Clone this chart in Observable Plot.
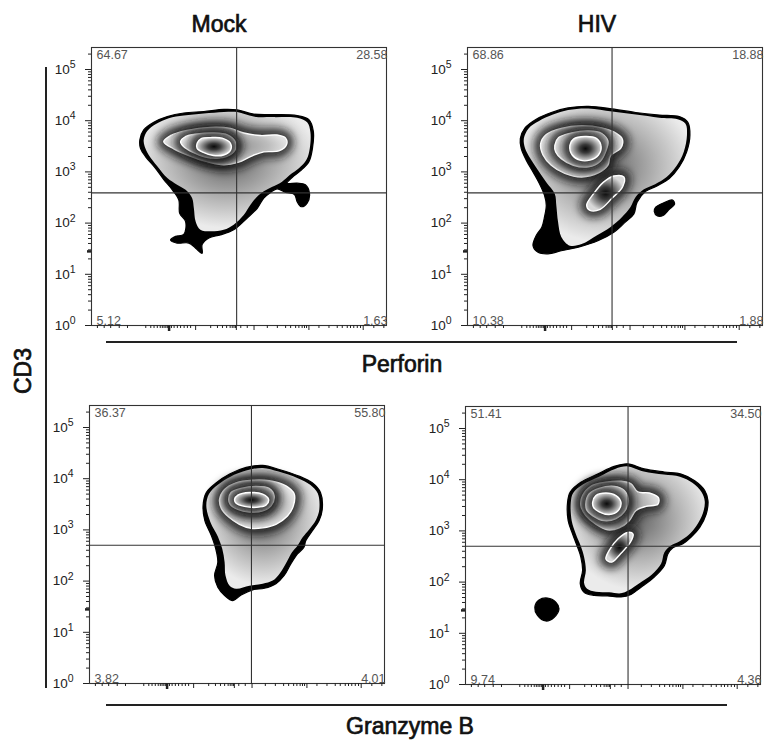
<!DOCTYPE html>
<html><head><meta charset="utf-8">
<script src="https://cdn.jsdelivr.net/npm/d3@7"></script>
<script src="https://cdn.jsdelivr.net/npm/@observablehq/plot@0.6"></script>
<style>
body{margin:0;background:#fff;}
#fig{position:relative;width:774px;height:753px;font-family:"Liberation Sans",Arial,sans-serif;overflow:hidden;}
.lbl{position:absolute;font-size:23px;color:#111;white-space:nowrap;-webkit-text-stroke:0.7px #111;transform:translate(-50%,-50%);}
.ln{position:absolute;background:#222;}
.panel{position:absolute;}
</style></head><body>
<svg width="0" height="0" style="position:absolute"><defs>
<radialGradient id="peak" cx="0.5" cy="0.5" r="0.5">
<stop offset="0" stop-color="#0a0a0a"/>
<stop offset="0.35" stop-color="#3a3a3a"/>
<stop offset="0.75" stop-color="#9a9a9a"/>
<stop offset="1" stop-color="#d8d8d8"/>
</radialGradient>
<radialGradient id="band" cx="0.5" cy="0.5" r="0.5">
<stop offset="0" stop-color="#808080"/>
<stop offset="0.7" stop-color="#bdbdbd"/>
<stop offset="1" stop-color="#e2e2e2"/>
</radialGradient>
<radialGradient id="soft" cx="0.5" cy="0.42" r="0.55">
<stop offset="0" stop-color="#666"/>
<stop offset="0.6" stop-color="#b8b8b8"/>
<stop offset="1" stop-color="#ebebeb"/>
</radialGradient>
<filter id="halo" filterUnits="userSpaceOnUse" x="-20" y="-20" width="420" height="360">
<feGaussianBlur stdDeviation="4"/>
</filter>
</defs></svg>
<div id="fig"></div>
<script>
// ---- text ----
const conditions = ["Mock", "HIV"];
const markers = ["Perforin", "Granzyme B"];
const yTitle = "CD3";

// ---- quadrant percentages [UL, UR, LL, LR] ----
const quadMockPerf = [64.67, 28.58, 5.12, 1.63];
const quadHivPerf = [68.86, 18.88, 10.38, 1.88];
const quadMockGzm = [36.37, 55.80, 3.82, 4.01];
const quadHivGzm = [51.41, 34.50, 9.74, 4.36];

// ---- gate positions (x in % of axis, y in CD3 units) ----
const gateX = [49.2, 49.0, 54.9, 55.1];
const gateY = [390, 390, 500, 500];

// ---- axis ticks ----
const yMajorTicks = [1, 10, 100, 1000, 10000, 100000];
const yMantissas = [2, 3, 4, 5, 6, 7, 8, 9];
const yDecades = [1, 10, 100, 1000, 10000];
const yExtraMinor = [200000];
const yThickTicks = [28];
const xMajorTicks = [35.3, 49.1, 55.1, 73.7, 92.1];
const xThickTicks = [26.3];
const xMinorTicks = [2.0,4.3,6.5,9.4,12.2,18.4,20.1,21.2,22.3,23.3,24.0,24.6,25.2,25.7,27.1,28.0,29.1,30.2,31.4,32.5,33.6,40.4,42.7,44.4,45.8,47.0,47.7,48.3,48.8,50.6,52.8,59.6,63.0,65.8,67.5,69.2,70.3,71.4,72.2,72.9,77.1,80.5,83.3,85.0,86.7,87.8,88.9,90.1,91.2,95.7,99.1];

// ---- contour outlines: [x (% of axis), log10(CD3)] ----
// Mock / Perforin
const tlOuter = [[16.4,3.63],[17.7,3.82],[21.1,3.97],[25.7,4.08],[31.3,4.15],[38.1,4.18],[44.9,4.22],[49.4,4.21],[55.0,4.13],[61.8,4.12],[69.7,4.10],[73.7,4.02],[75.2,3.79],[74.9,3.46],[73.7,3.20],[70.8,3.02],[68.0,2.89],[66.3,2.78],[69.7,2.78],[72.5,2.75],[73.9,2.58],[73.1,2.39],[71.1,2.32],[69.7,2.42],[68.8,2.56],[65.8,2.60],[62.9,2.67],[60.7,2.60],[58.4,2.49],[56.2,2.29],[52.8,2.10],[48.2,1.87],[43.7,1.77],[39.8,1.71],[37.5,1.58],[37.5,1.41],[35.3,1.51],[33.0,1.61],[29.0,1.61],[26.8,1.67],[28.5,1.74],[31.3,1.78],[31.9,2.03],[29.9,2.19],[29.6,2.45],[27.4,2.65],[24.5,2.85],[21.7,3.07],[18.3,3.30],[16.6,3.46]];
const tlBody = [[17.7,3.63],[18.9,3.80],[22.0,3.94],[26.2,4.05],[31.3,4.10],[38.1,4.14],[44.9,4.17],[49.4,4.17],[55.0,4.08],[61.8,4.07],[69.7,4.06],[73.1,3.97],[74.2,3.78],[74.0,3.46],[72.9,3.24],[70.3,3.07],[67.2,2.94],[64.6,2.81],[61.3,2.71],[58.4,2.62],[56.2,2.52],[53.9,2.36],[51.6,2.16],[48.2,1.97],[44.8,1.87],[40.3,1.84],[36.9,1.87],[35.3,2.03],[34.7,2.29],[34.1,2.49],[31.9,2.65],[29.0,2.75],[25.7,2.88],[22.3,3.11],[19.4,3.33],[18.0,3.50]];
const tlRing1 = [[24.5,3.59],[26.8,3.71],[32.4,3.81],[40.3,3.87],[47.1,3.85],[51.6,3.76],[57.3,3.71],[62.9,3.72],[65.8,3.66],[66.1,3.53],[63.5,3.41],[58.4,3.39],[53.9,3.30],[49.9,3.19],[44.8,3.14],[39.2,3.20],[33.0,3.32],[27.9,3.45]];
const tlRing2 = [[30.2,3.59],[31.9,3.69],[35.8,3.74],[41.5,3.76],[46.2,3.72],[48.5,3.61],[48.8,3.45],[46.9,3.33],[43.2,3.27],[38.6,3.29],[34.1,3.39],[31.1,3.50]];
const tlRing3 = [[35.8,3.56],[37.2,3.65],[40.3,3.67],[44.3,3.66],[47.1,3.56],[47.1,3.42],[44.8,3.33],[41.3,3.32],[37.9,3.38],[35.8,3.46]];
// HIV / Perforin
const trOuter = [[17.9,3.65],[19.5,3.86],[23.3,4.03],[28.4,4.16],[34.1,4.25],[41.0,4.28],[49.0,4.23],[57.0,4.16],[65.0,4.11],[71.8,4.08],[74.7,3.97],[75.4,3.72],[74.3,3.39],[71.8,3.10],[68.4,2.87],[64.4,2.73],[60.4,2.62],[57.5,2.41],[56.4,2.18],[53.5,2.02],[49.6,1.82],[44.4,1.66],[37.6,1.53],[31.8,1.46],[27.3,1.40],[23.9,1.43],[22.2,1.56],[23.3,1.76],[25.2,1.92],[26.1,2.12],[26.7,2.35],[26.1,2.54],[24.4,2.77],[22.2,3.00],[19.9,3.23],[18.2,3.46]];
const trBlob = [[63.8,2.31],[66.7,2.40],[69.5,2.45],[70.2,2.37],[68.4,2.27],[66.3,2.15],[64.4,2.14],[63.3,2.23]];
const trBody = [[19.1,3.65],[20.7,3.85],[24.1,3.99],[29.0,4.12],[34.1,4.21],[41.0,4.24],[49.0,4.18],[57.0,4.12],[65.0,4.06],[71.2,4.03],[73.9,3.94],[74.4,3.72],[73.3,3.39],[70.9,3.12],[67.5,2.90],[63.6,2.76],[59.8,2.66],[57.0,2.51],[55.2,2.31],[52.4,2.12],[48.4,1.92],[43.8,1.76],[38.7,1.59],[34.7,1.56],[31.8,1.73],[30.7,2.02],[30.1,2.35],[29.6,2.57],[26.7,2.80],[23.9,3.03],[21.3,3.26],[19.5,3.46]];
const trRing1 = [[24.8,3.55],[26.7,3.73],[31.8,3.85],[38.7,3.90],[45.5,3.86],[49.6,3.78],[52.5,3.64],[52.0,3.47],[48.4,3.31],[47.6,3.13],[44.4,2.98],[38.7,2.90],[33.0,2.97],[28.4,3.13],[25.6,3.33]];
const trRing2 = [[29.6,3.52],[30.9,3.67],[35.3,3.76],[41.0,3.80],[45.5,3.75],[47.6,3.60],[46.9,3.41],[45.0,3.21],[41.0,3.10],[35.9,3.13],[31.8,3.26],[29.9,3.39]];
const trRing3 = [[34.7,3.52],[35.9,3.64],[39.8,3.69],[43.8,3.65],[45.3,3.49],[44.4,3.33],[41.5,3.23],[38.1,3.23],[35.5,3.33]];
const trIsland = [[49.6,2.92],[53.0,2.90],[52.6,2.71],[48.9,2.48],[45.0,2.27],[41.5,2.25],[40.4,2.35],[42.7,2.57],[46.1,2.80]];
// Mock / Granzyme B
const blOuter = [[38.5,3.47],[39.6,3.73],[43.0,3.92],[47.5,4.09],[53.1,4.22],[58.7,4.26],[64.3,4.18],[71.0,4.05],[75.5,3.92],[78.3,3.73],[78.9,3.40],[77.8,3.18],[75.5,2.98],[73.3,2.79],[72.7,2.66],[70.5,2.53],[68.2,2.33],[66.0,2.11],[63.2,1.95],[59.3,1.86],[55.3,1.83],[51.4,1.73],[48.6,1.62],[45.8,1.72],[43.5,1.88],[42.4,2.11],[43.5,2.37],[42.8,2.63],[41.3,2.89],[39.1,3.18]];
const blBody = [[39.6,3.47],[40.5,3.70],[43.5,3.88],[47.8,4.04],[53.1,4.16],[58.7,4.21],[64.1,4.14],[70.6,4.01],[74.8,3.88],[77.4,3.71],[77.9,3.40],[76.8,3.20],[74.6,3.02],[72.2,2.85],[70.5,2.69],[68.6,2.56],[66.8,2.37],[64.6,2.16],[62.1,2.01],[58.7,1.95],[54.2,1.91],[49.7,1.85],[47.5,1.91],[46.1,2.11],[45.8,2.37],[45.0,2.63],[43.5,2.87],[41.0,3.15]];
const blRing1 = [[44.1,3.60],[45.8,3.79],[49.7,3.92],[55.3,3.97],[60.9,3.96],[66.6,3.86],[69.4,3.70],[69.1,3.47],[67.1,3.27],[63.2,3.11],[58.7,3.04],[54.8,3.03],[50.8,3.11],[47.2,3.25],[44.7,3.42]];
const blRing2 = [[47.2,3.60],[48.0,3.73],[51.4,3.81],[56.5,3.85],[60.9,3.81],[62.6,3.66],[61.5,3.47],[58.7,3.37],[54.2,3.35],[50.3,3.40],[47.7,3.50]];
const blRing3 = [[49.2,3.60],[50.3,3.68],[54.2,3.73],[58.7,3.70],[60.7,3.60],[59.8,3.48],[56.5,3.44],[52.5,3.46],[49.7,3.52]];
// HIV / Granzyme B
const brOuter = [[34.6,3.56],[35.5,3.76],[39.1,3.95],[44.8,4.11],[50.4,4.26],[55.0,4.31],[60.6,4.21],[67.4,4.15],[73.1,4.11],[77.7,3.98],[81.1,3.79],[82.2,3.59],[81.6,3.33],[79.4,3.07],[76.5,2.88],[73.7,2.75],[70.3,2.67],[68.6,2.55],[67.4,2.32],[64.0,2.10],[59.5,1.90],[56.1,1.76],[52.7,1.71],[48.2,1.73],[43.6,1.74],[40.2,1.80],[38.9,1.97],[39.7,2.23],[39.1,2.49],[38.0,2.68],[36.3,2.94],[34.8,3.20]];
const brBlob = [[23.5,1.51],[24.9,1.65],[27.8,1.69],[30.6,1.61],[31.7,1.48],[30.0,1.31],[27.2,1.24],[24.4,1.35]];
const brBody = [[35.7,3.56],[36.5,3.74],[39.9,3.91],[45.3,4.06],[50.7,4.21],[55.0,4.26],[60.4,4.16],[67.2,4.10],[72.7,4.06],[76.9,3.94],[80.0,3.76],[81.1,3.58],[80.5,3.35],[78.3,3.10],[75.6,2.92],[72.6,2.80],[69.5,2.71],[67.4,2.58],[66.3,2.36],[63.2,2.15],[58.7,1.97],[55.3,1.84],[52.7,1.78],[48.7,1.80],[44.2,1.81],[41.2,1.87],[40.2,1.98],[40.8,2.23],[40.2,2.49],[39.1,2.70],[37.4,2.94],[36.0,3.20]];
const brRing1 = [[39.1,3.50],[39.7,3.69],[42.5,3.87],[47.6,3.95],[52.7,3.97],[56.1,3.92],[58.4,3.76],[62.3,3.74],[65.4,3.65],[65.2,3.52],[61.2,3.48],[57.8,3.40],[55.5,3.20],[52.1,3.06],[48.2,3.02],[44.2,3.13],[40.8,3.30]];
const brRing2 = [[40.8,3.53],[41.9,3.72],[45.3,3.83],[50.4,3.87],[53.8,3.79],[55.2,3.59],[53.8,3.37],[51.0,3.24],[47.0,3.20],[43.1,3.30],[41.2,3.40]];
const brRing3 = [[43.1,3.56],[44.2,3.69],[47.6,3.74],[51.0,3.69],[52.7,3.56],[51.8,3.40],[48.7,3.32],[45.3,3.37],[43.4,3.46]];
const brIsland = [[55.0,2.97],[56.8,2.94],[55.9,2.78],[52.5,2.55],[49.6,2.39],[47.6,2.45],[48.7,2.62],[51.8,2.85]];

// ---- assemble ----
const yMinorTicks = yDecades.flatMap(d => yMantissas.map(m => m * d)).concat(yExtraMinor);
const panelDefs = [
  {left: 91, top: 47, gx: gateX[0], gy: gateY[0], quad: quadMockPerf, outer: [tlOuter], body: tlBody, rings: [tlRing1, tlRing2], peaks: [tlRing3]},
  {left: 467, top: 47, gx: gateX[1], gy: gateY[1], quad: quadHivPerf, outer: [trOuter, trBlob], body: trBody, rings: [trRing1, trRing2], peaks: [trRing3, trIsland]},
  {left: 89, top: 405, gx: gateX[2], gy: gateY[2], quad: quadMockGzm, outer: [blOuter], body: blBody, rings: [blRing1, blRing2], peaks: [blRing3]},
  {left: 465, top: 406, gx: gateX[3], gy: gateY[3], quad: quadHivGzm, outer: [brOuter, brBlob], body: brBody, rings: [brRing1, brRing2], peaks: [brRing3, brIsland]}
];

const fig = document.getElementById("fig");
const FW = 295, FH = 278, ML = 50, MR = 8, MT = 6, MB = 12;
const yTop = Math.pow(10, FH / 51.2);

function pts(arr) { return arr.map(([x, e]) => ({x, y: Math.pow(10, e)})); }
function shape(arr, o) { return Plot.line(pts(arr), {x: "x", y: "y", curve: "catmull-rom-closed", ...o}); }
const blank = () => "";
const HALO = "#141414";

panelDefs.forEach(p => {
  const marks = [];
  p.outer.forEach(a => marks.push(shape(a, {fill: "#000", stroke: "#000", strokeWidth: 1.2})));
  marks.push(shape(p.body, {fill: "url(#soft)", stroke: "none"}));
  const levels = p.rings.concat(p.peaks);
  levels.forEach((a, i) => {
    marks.push(shape(a, {fill: "none", stroke: HALO, strokeWidth: 13, strokeOpacity: 0.85}));
    const isPeak = i >= p.rings.length;
    marks.push(shape(a, {fill: isPeak ? "url(#peak)" : "url(#band)", stroke: "#fff", strokeWidth: 1.4}));
  });
  marks.push(Plot.ruleX([p.gx], {stroke: "#333", strokeWidth: 1.1}));
  marks.push(Plot.ruleY([p.gy], {stroke: "#333", strokeWidth: 1.1}));
  marks.push(Plot.frame({stroke: "#333", strokeWidth: 1.1}));
  marks.push(Plot.axisY(yMajorTicks, {tickSize: 6, tickPadding: 10, fontSize: 13.5, label: null, tickFormat: d => "10^" + Math.round(Math.log10(d))}));
  marks.push(Plot.axisY(yMinorTicks, {tickSize: 3, label: null, tickFormat: blank}));
  marks.push(Plot.axisY(yThickTicks, {tickSize: 4, strokeWidth: 2.5, label: null, tickFormat: blank}));
  marks.push(Plot.axisX(xMajorTicks, {tickSize: 5, label: null, tickFormat: blank}));
  marks.push(Plot.axisX(xMinorTicks, {tickSize: 3, label: null, tickFormat: blank}));
  marks.push(Plot.axisX(xThickTicks, {tickSize: 6, strokeWidth: 2.5, label: null, tickFormat: blank}));
  const corner = (i, anchor, dx, dy) => Plot.text([p.quad[i]], {text: d => d.toFixed(2), frameAnchor: anchor, dx, dy, fontSize: 12.5, fill: "#555"});
  marks.push(corner(0, "top-left", 5, 3), corner(1, "top-right", 1, 3), corner(2, "bottom-left", 5, -1), corner(3, "bottom-right", 1, -1));
  const svg = Plot.plot({
    width: ML + FW + MR, height: MT + FH + MB,
    marginLeft: ML, marginRight: MR, marginTop: MT, marginBottom: MB,
    x: {domain: [0, 100], axis: null},
    y: {type: "log", domain: [1, yTop], axis: null},
    style: {color: "#222", fontFamily: "Liberation Sans, Arial, sans-serif", background: "transparent", overflow: "visible"},
    marks
  });
  // soft halos behind each contour line
  d3.select(svg).selectAll("g[stroke-width='13']").attr("filter", "url(#halo)");
  d3.select(svg).selectAll("text").each(function() {
    const m = /^10\^(\d)$/.exec(this.textContent);
    if (m) {
      const s = d3.select(this);
      s.text(null);
      s.append("tspan").text("10");
      s.append("tspan").attr("dy", "-0.55em").attr("font-size", "10.5px").text(m[1]);
    }
  });
  const wrap = document.createElement("div");
  wrap.className = "panel";
  wrap.style.left = (p.left - ML) + "px";
  wrap.style.top = (p.top - MT) + "px";
  wrap.appendChild(svg);
  fig.appendChild(wrap);
});

function label(text, x, y, rot) {
  const d = document.createElement("div");
  d.className = "lbl";
  d.textContent = text;
  d.style.left = x + "px";
  d.style.top = y + "px";
  if (rot) d.style.transform = "translate(-50%,-50%) rotate(-90deg)";
  fig.appendChild(d);
}
function line(x, y, w, h) {
  const d = document.createElement("div");
  d.className = "ln";
  Object.assign(d.style, {left: x + "px", top: y + "px", width: w + "px", height: h + "px"});
  fig.appendChild(d);
}
label(conditions[0], 219, 24);
label(conditions[1], 597, 24);
label(markers[0], 402, 364);
label(markers[1], 410, 726);
label(yTitle, 23, 371, true);
line(45, 67, 1.6, 621);
line(106, 341, 631, 1.6);
line(106, 704, 621, 1.6);
</script></body></html>
